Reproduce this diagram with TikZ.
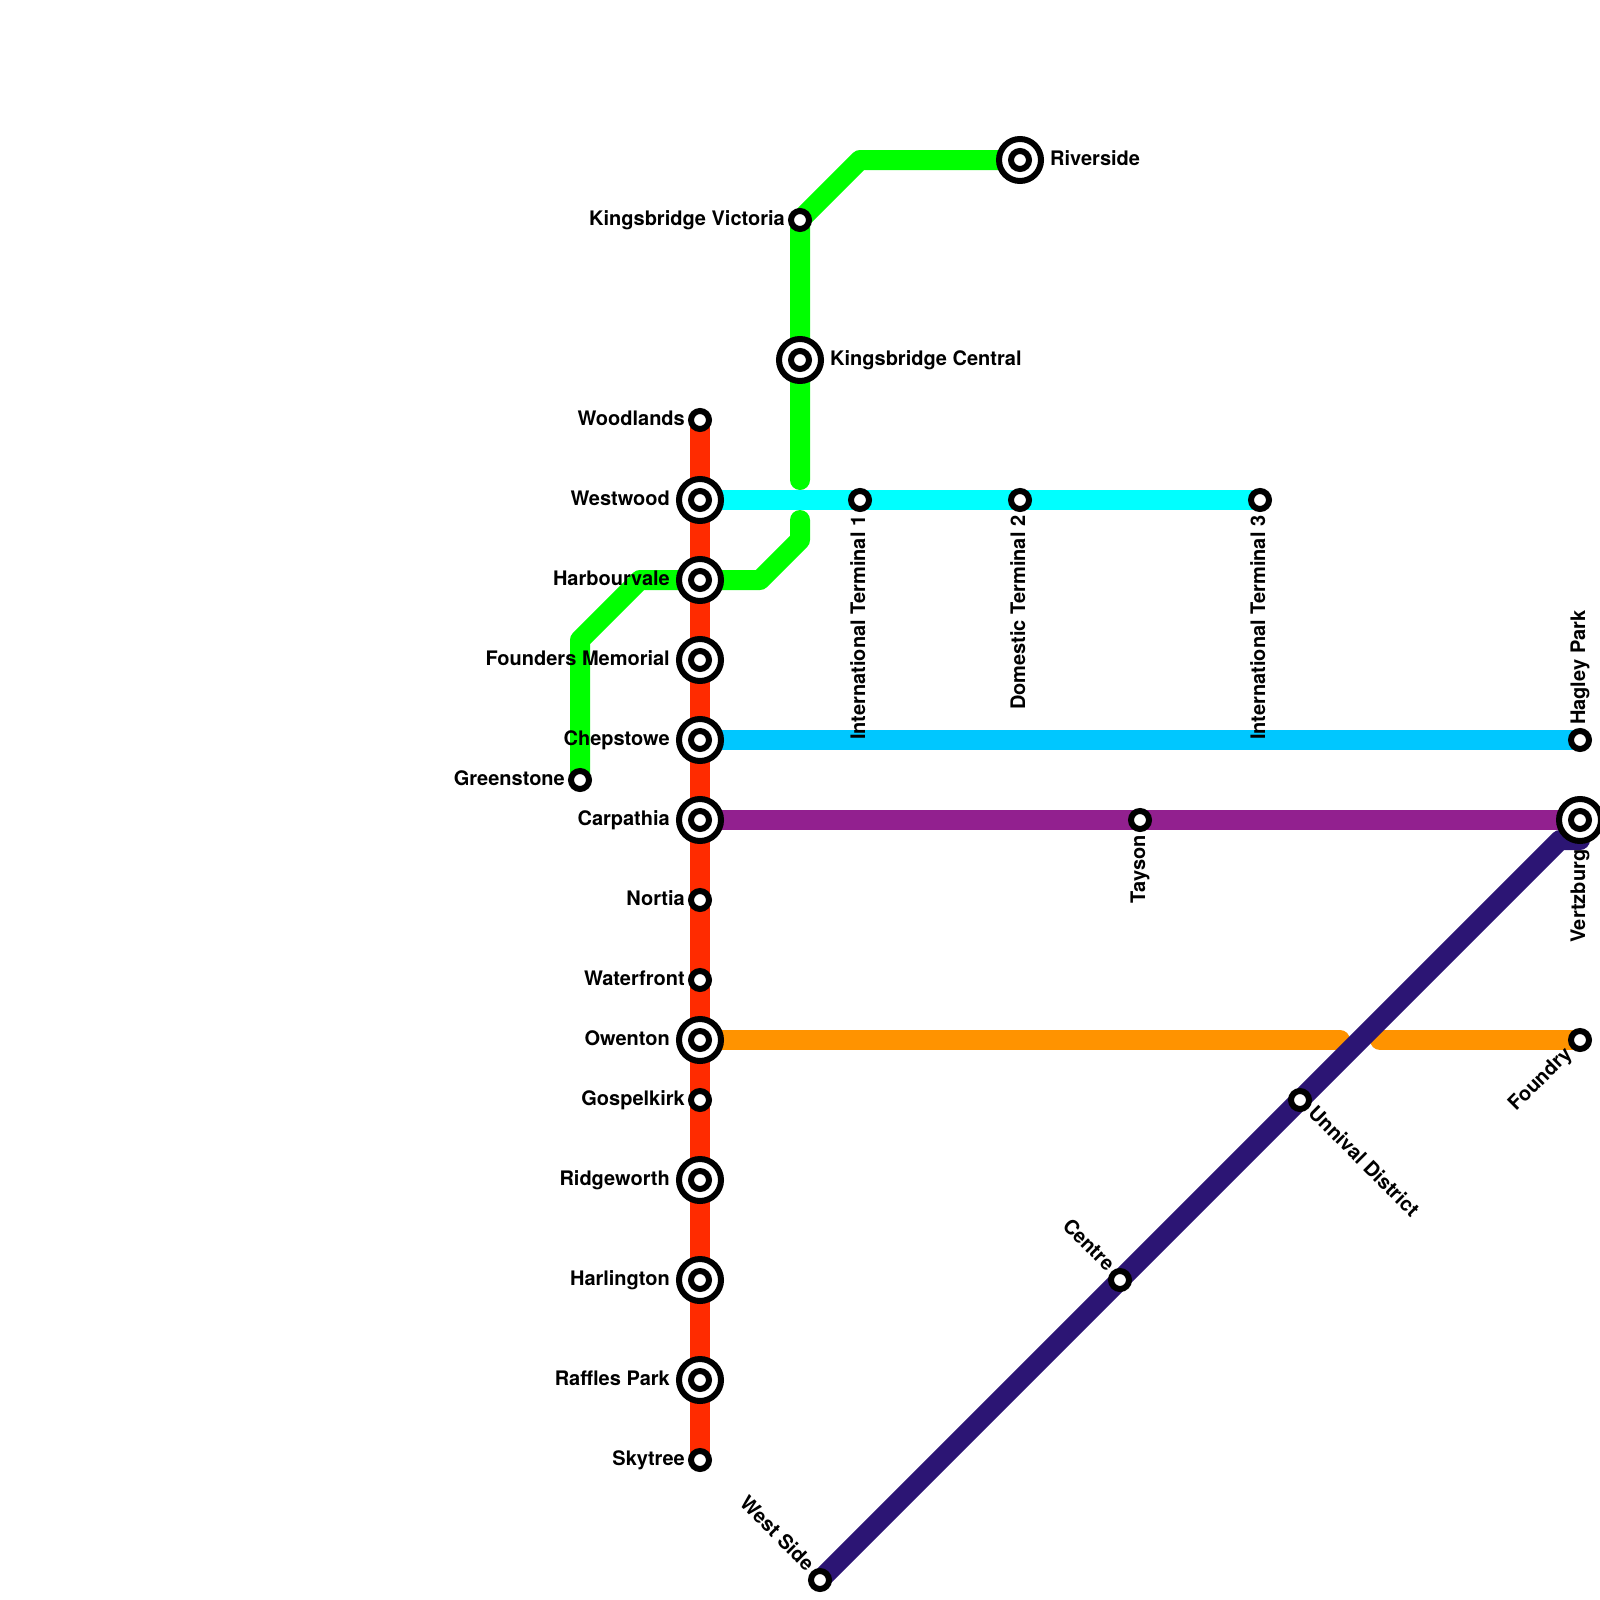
\documentclass[tikz,border=0pt]{standalone}
\usepackage{fontspec}
\setmainfont{TeX Gyre Heros}
\usetikzlibrary{backgrounds}
\definecolor{cred}{HTML}{FF2B00}
\definecolor{cgreen}{HTML}{00FF00}
\definecolor{ccyan}{HTML}{00FFFF}
\definecolor{cblue}{HTML}{00C7FF}
\definecolor{cpurple}{HTML}{92208F}
\definecolor{cnavy}{HTML}{2C1574}
\definecolor{corange}{HTML}{FF9300}
\tikzset{
  every picture/.style={font=\fontsize{20}{22}\selectfont\bfseries},
  route/.style={draw=#1, line width=20pt, line cap=round, line join=round},
  stop/.style={circle, draw=black, fill=white, line width=6pt, inner sep=0pt, minimum size=18pt},
  hub/.style={circle, draw=black, fill=white, line width=6pt, inner sep=0pt, minimum size=42pt,
    path picture={\draw[line width=6pt] (path picture bounding box.center) circle (9pt);}},
  lab/.style={inner sep=0pt, text=black},
}

\begin{document}
\begin{tikzpicture}[x=1pt, y=-1pt]
  \useasboundingbox (0,0) rectangle (1600,1600);
  % main line
  \node[stop] (woodlands) at (700,420) {};
  \node[hub] (westwood) at (700,500) {};
  \node[hub] (harbourvale) at (700,580) {};
  \node[hub] (founders) at (700,660) {};
  \node[hub] (chepstowe) at (700,740) {};
  \node[hub] (carpathia) at (700,820) {};
  \node[stop] (nortia) at (700,900) {};
  \node[stop] (waterfront) at (700,980) {};
  \node[hub] (owenton) at (700,1040) {};
  \node[stop] (gospelkirk) at (700,1100) {};
  \node[hub] (ridgeworth) at (700,1180) {};
  \node[hub] (harlington) at (700,1280) {};
  \node[hub] (raffles) at (700,1380) {};
  \node[stop] (skytree) at (700,1460) {};
  % green branch
  \node[hub] (riverside) at (1020,160) {};
  \node[stop] (kvictoria) at (800,220) {};
  \node[hub] (kcentral) at (800,360) {};
  \node[stop] (greenstone) at (580,780) {};
  % airport
  \node[stop] (term1) at (860,500) {};
  \node[stop] (term2) at (1020,500) {};
  \node[stop] (term3) at (1260,500) {};
  % east side
  \node[stop] (hagley) at (1580,740) {};
  \node[stop] (tayson) at (1140,820) {};
  \node[hub] (vertzburg) at (1580,820) {};
  \node[stop] (foundry) at (1580,1040) {};
  \node[stop] (unnival) at (1300,1100) {};
  \node[stop] (centre) at (1120,1280) {};
  \node[stop] (westside) at (820,1580) {};
  % bends and breaks
  \coordinate (g1) at (860,160);
  \coordinate (g2) at (800,480);
  \coordinate (g3) at (800,520);
  \coordinate (g4) at (800,540);
  \coordinate (g5) at (760,580);
  \coordinate (g6) at (640,580);
  \coordinate (g7) at (580,640);
  \coordinate (o1) at (1340,1040);
  \coordinate (o2) at (1380,1040);
  \coordinate (n1) at (1560,840);
  \coordinate (n2) at (1580,840);
  \begin{scope}[on background layer]
    \draw[route=cred] (woodlands.center) -- (skytree.center);
    \draw[route=cgreen] (riverside.center) -- (g1) -- (kvictoria.center) -- (kcentral.center) -- (g2);
    \draw[route=cgreen] (g3) -- (g4) -- (g5) -- (g6) -- (g7) -- (greenstone.center);
    \draw[route=ccyan] (westwood.center) -- (term3.center);
    \draw[route=cblue] (chepstowe.center) -- (hagley.center);
    \draw[route=corange] (owenton.center) -- (o1);
    \draw[route=corange] (o2) -- (foundry.center);
    \draw[route=cnavy] (westside.center) -- (n1) -- (n2) -- (vertzburg.center);
    \draw[route=cpurple] (carpathia.center) -- (vertzburg.center);
  \end{scope}
  % names
  \node[lab, anchor=base east] (woodlandsL) at (685,425) {Woodlands};
  \node[lab, anchor=base east] (westwoodL) at (670,505) {Westwood};
  \node[lab, anchor=base east] (harbourvaleL) at (670,585) {Harbourvale};
  \node[lab, anchor=base east] (foundersL) at (670,665) {Founders Memorial};
  \node[lab, anchor=base east] (chepstoweL) at (670,745) {Chepstowe};
  \node[lab, anchor=base east] (carpathiaL) at (670,825) {Carpathia};
  \node[lab, anchor=base east] (nortiaL) at (685,905) {Nortia};
  \node[lab, anchor=base east] (waterfrontL) at (685,985) {Waterfront};
  \node[lab, anchor=base east] (owentonL) at (670,1045) {Owenton};
  \node[lab, anchor=base east] (gospelkirkL) at (685,1105) {Gospelkirk};
  \node[lab, anchor=base east] (ridgeworthL) at (670,1185) {Ridgeworth};
  \node[lab, anchor=base east] (harlingtonL) at (670,1285) {Harlington};
  \node[lab, anchor=base east] (rafflesL) at (670,1385) {Raffles Park};
  \node[lab, anchor=base east] (skytreeL) at (685,1465) {Skytree};
  \node[lab, anchor=base east] (greenstoneL) at (565,785) {Greenstone};
  \node[lab, anchor=base east] (kvictoriaL) at (785,225) {Kingsbridge Victoria};
  \node[lab, anchor=base west] (riversideL) at (1050,165) {Riverside};
  \node[lab, anchor=base west] (kcentralL) at (830,365) {Kingsbridge Central};
  \node[lab, anchor=base east, rotate=90] (term1L) at (865,515.5) {International Terminal 1};
  \node[lab, anchor=base east, rotate=90] (term2L) at (1025,515.5) {Domestic Terminal 2};
  \node[lab, anchor=base east, rotate=90] (term3L) at (1265,515.5) {International Terminal 3};
  \node[lab, anchor=base west, rotate=90] (hagleyL) at (1585,725) {Hagley Park};
  \node[lab, anchor=base east, rotate=90] (taysonL) at (1145,835) {Tayson};
  \node[lab, anchor=base east, rotate=90] (vertzburgL) at (1585,849.5) {Vertzburg};
  \node[lab, anchor=base east, rotate=45] (foundryL) at (1573,1055) {Foundry};
  \node[lab, anchor=base west, rotate=-45] (unnivalL) at (1307,1114) {Unnival District};
  \node[lab, anchor=base east, rotate=-45] (centreL) at (1106.5,1272) {Centre};
  \node[lab, anchor=base east, rotate=-45] (westsideL) at (806,1572) {West Side};
\end{tikzpicture}
\end{document}
